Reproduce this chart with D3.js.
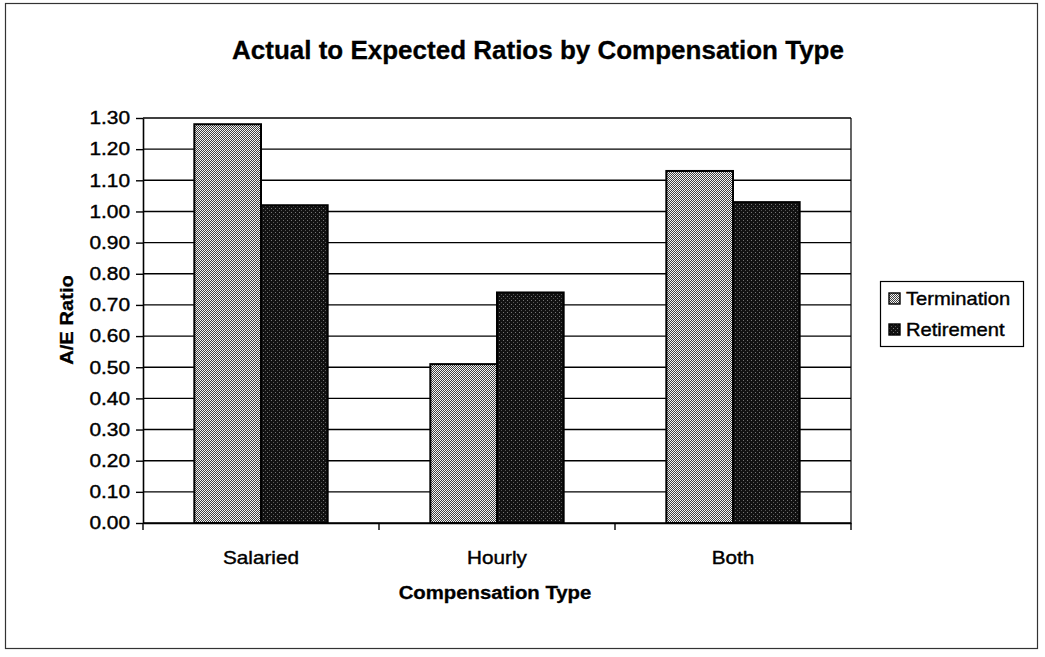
<!DOCTYPE html>
<html>
<head>
<meta charset="utf-8">
<script src="https://cdn.jsdelivr.net/npm/d3@7"></script>
<style>
  html, body { margin: 0; padding: 0; background: #fff; }
  text { font-family: "Liberation Sans", Arial, sans-serif; fill: #000; }
</style>
</head>
<body>
<svg id="chart" width="1045" height="657"></svg>
<script>
const categories = ["Salaried", "Hourly", "Both"];
const seriesNames = ["Termination", "Retirement"];
const terminationValues = [1.28, 0.51, 1.13];
const retirementValues = [1.02, 0.74, 1.03];
const yTickValues = [0.00, 0.10, 0.20, 0.30, 0.40, 0.50, 0.60, 0.70, 0.80, 0.90, 1.00, 1.10, 1.20, 1.30];
const titleText = "Actual to Expected Ratios by Compensation Type";
const xTitle = "Compensation Type";
const yTitle = "A/E Ratio";

const rows = categories.map((c, i) => ({
  category: c,
  values: [
    { series: seriesNames[0], value: terminationValues[i] },
    { series: seriesNames[1], value: retirementValues[i] }
  ]
}));

const svg = d3.select("#chart");
const plot = { left: 143, right: 851, top: 118, bottom: 523 };

function stretch(sel, sx) {
  sel.each(function () {
    const t = d3.select(this);
    const x = +t.attr("x") || 0;
    t.attr("x", x / sx).attr("transform", `scale(${sx},1)`);
  });
}
function heavy(sel, w) {
  sel.attr("stroke", "#000").attr("stroke-width", w).attr("paint-order", "stroke");
}

// patterns
const defs = svg.append("defs");
const pT = defs.append("pattern").attr("id", "patTerm").attr("patternUnits", "userSpaceOnUse")
  .attr("width", 2).attr("height", 2);
pT.append("rect").attr("width", 2).attr("height", 2).attr("fill", "#f4f4f4");
pT.append("rect").attr("x", 0).attr("y", 0).attr("width", 1).attr("height", 1).attr("fill", "#404040");
pT.append("rect").attr("x", 1).attr("y", 1).attr("width", 1).attr("height", 1).attr("fill", "#404040");

const pR = defs.append("pattern").attr("id", "patRet").attr("patternUnits", "userSpaceOnUse")
  .attr("width", 4).attr("height", 4);
pR.append("rect").attr("width", 4).attr("height", 4).attr("fill", "#111");
pR.append("rect").attr("x", 0).attr("y", 0).attr("width", 1).attr("height", 1).attr("fill", "#777");
pR.append("rect").attr("x", 2).attr("y", 2).attr("width", 1).attr("height", 1).attr("fill", "#555");
const fills = { Termination: "url(#patTerm)", Retirement: "url(#patRet)" };

// outer frame
svg.append("rect").attr("x", 5.5).attr("y", 3.5).attr("width", 1032).attr("height", 645)
  .attr("fill", "#fff").attr("stroke", "#333").attr("stroke-width", 1.2);

// scales
const x0 = d3.scaleBand().domain(categories).range([plot.left, plot.right]).padding(0);
const x1 = d3.scaleBand().domain(seriesNames).range([0, x0.bandwidth()]).paddingInner(0).paddingOuter(0.77);
const y = d3.scaleLinear().domain([0, 1.3]).range([plot.bottom, plot.top]);

// gridlines
svg.append("g").selectAll("line").data(yTickValues).join("line")
  .attr("x1", plot.left).attr("x2", plot.right)
  .attr("y1", d => y(d)).attr("y2", d => y(d))
  .attr("stroke", "#000").attr("stroke-width", 1.4);

// right border of plot
svg.append("line").attr("x1", plot.right).attr("x2", plot.right)
  .attr("y1", plot.top).attr("y2", plot.bottom).attr("stroke", "#000").attr("stroke-width", 1.2);

// bars
const groups = svg.append("g").selectAll("g").data(rows).join("g")
  .attr("transform", d => `translate(${x0(d.category)},0)`);
groups.selectAll("rect").data(d => d.values).join("rect")
  .attr("x", d => x1(d.series))
  .attr("y", d => y(d.value))
  .attr("width", x1.bandwidth())
  .attr("height", d => y(0) - y(d.value))
  .attr("fill", d => fills[d.series])
  .attr("stroke", "#000").attr("stroke-width", 2);

// y axis
const yAxis = svg.append("g").attr("transform", `translate(${plot.left},0)`)
  .call(d3.axisLeft(y).tickValues(yTickValues).tickFormat(d3.format(".2f")).tickSize(7).tickPadding(6).tickSizeOuter(0));
yAxis.select(".domain").attr("stroke", "#000").attr("stroke-width", 1.6);
yAxis.selectAll(".tick line").attr("stroke", "#000").attr("stroke-width", 1.4);
const yTickText = yAxis.selectAll(".tick text").attr("font-size", 18)
  .attr("font-family", "Liberation Sans, Arial, sans-serif").attr("fill", "#000");
heavy(yTickText, 0.4);
stretch(yTickText, 1.16);

// x axis
const xAxis = svg.append("g").attr("transform", `translate(0,${plot.bottom})`)
  .call(d3.axisBottom(x0).tickSize(0).tickPadding(0).tickFormat(() => ""));
xAxis.select(".domain").attr("stroke", "#000").attr("stroke-width", 1.6);
xAxis.selectAll(".tick line").remove();
const boundaries = categories.map(c => x0(c)).concat([x0(categories[categories.length - 1]) + x0.bandwidth()]);
xAxis.append("g").selectAll("line").data(boundaries).join("line")
  .attr("x1", d => d).attr("x2", d => d).attr("y1", 0).attr("y2", 7)
  .attr("stroke", "#000").attr("stroke-width", 1.4);
const catLabels = svg.append("g").selectAll("text").data(categories).join("text")
  .attr("x", d => x0(d) + x0.bandwidth() / 2)
  .attr("y", 564)
  .attr("text-anchor", "middle").attr("font-size", 18)
  .text(d => d);
heavy(catLabels, 0.4);
stretch(catLabels, 1.15);

// title
const title = svg.append("text").attr("x", 538).attr("y", 59)
  .attr("text-anchor", "middle").attr("font-size", 25).attr("font-weight", "bold")
  .text(titleText);
heavy(title, 0.3);
stretch(title, 1.04);

// x axis title
const xt = svg.append("text").attr("x", 495).attr("y", 599)
  .attr("text-anchor", "middle").attr("font-size", 18).attr("font-weight", "bold")
  .text(xTitle);
heavy(xt, 0.3);
stretch(xt, 1.13);

// y axis title
const yt = svg.append("text")
  .attr("transform", "translate(73,320) rotate(-90) scale(1.12,1)")
  .attr("text-anchor", "middle").attr("font-size", 18).attr("font-weight", "bold")
  .text(yTitle);
heavy(yt, 0.3);

// legend
const legend = svg.append("g");
legend.append("rect").attr("x", 880.5).attr("y", 281.5).attr("width", 143).attr("height", 65)
  .attr("fill", "#fff").attr("stroke", "#000").attr("stroke-width", 1.2);
const legItems = legend.selectAll("g.item").data(seriesNames).join("g").attr("class", "item")
  .attr("transform", (d, i) => `translate(889,${293 + i * 31})`);
legItems.append("rect").attr("width", 11).attr("height", 11)
  .attr("fill", d => fills[d]).attr("stroke", "#000").attr("stroke-width", 1.4);
const legText = legItems.append("text").attr("x", 17).attr("y", 12).attr("font-size", 18).text(d => d);
heavy(legText, 0.4);
stretch(legText, 1.12);
</script>
</body>
</html>
